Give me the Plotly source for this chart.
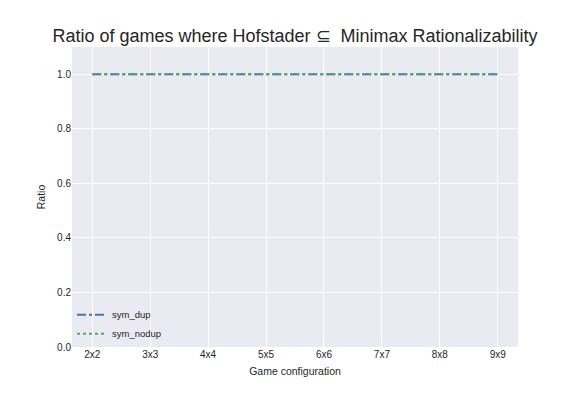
import plotly.graph_objects as go

configs = ["2x2", "3x3", "4x4", "5x5", "6x6", "7x7", "8x8", "9x9"]
sym_dup = [1.0, 1.0, 1.0, 1.0, 1.0, 1.0, 1.0, 1.0]
sym_nodup = [1.0, 1.0, 1.0, 1.0, 1.0, 1.0, 1.0, 1.0]
yticks = [0.0, 0.2, 0.4, 0.6, 0.8, 1.0]

fig = go.Figure()
fig.add_trace(go.Scatter(x=list(range(len(configs))), y=sym_dup, mode="lines", name="sym_dup",
                         line=dict(color="#4C72B0", width=2, dash="dashdot")))
fig.add_trace(go.Scatter(x=list(range(len(configs))), y=sym_nodup, mode="lines", name="sym_nodup",
                         line=dict(color="#55A868", width=2, dash="dot")))

font = "Liberation Sans, Arial, sans-serif"
fig.update_layout(
    width=576, height=396,
    paper_bgcolor="white", plot_bgcolor="#EAEAF2",
    margin=dict(l=64, r=66, t=39, b=57, autoexpand=False),
    font=dict(family=font, color="#262626", size=10),
    title=dict(text="Ratio of games where Hofstader \u2286  Minimax Rationalizability",
               x=0.5, xanchor="center", xref="paper", y=1, yref="container", yanchor="top",
               pad=dict(t=21), font=dict(size=18, color="#262626")),
    showlegend=True,
    legend=dict(x=0.0, y=-0.004, xanchor="left", yanchor="bottom", bgcolor="rgba(0,0,0,0)",
                font=dict(size=9.5), itemwidth=30, tracegroupgap=0),
    xaxis=dict(range=[-0.35, 7.35], tickmode="array", tickvals=list(range(len(configs))),
               ticktext=configs, showgrid=True, gridcolor="white", gridwidth=1, zeroline=False,
               title=dict(text="Game configuration", font=dict(size=10.5), standoff=8),
               ticks="", showline=False, automargin=False),
    yaxis=dict(range=[0, 1.1], tickmode="array", tickvals=yticks,
               ticktext=[f"{v:.1f}" for v in yticks], showgrid=True, gridcolor="white", gridwidth=1,
               zeroline=False, title=dict(text="Ratio", font=dict(size=10.5), standoff=9),
               ticks="", showline=False, automargin=False),
)

fig.write_html("out.html")
